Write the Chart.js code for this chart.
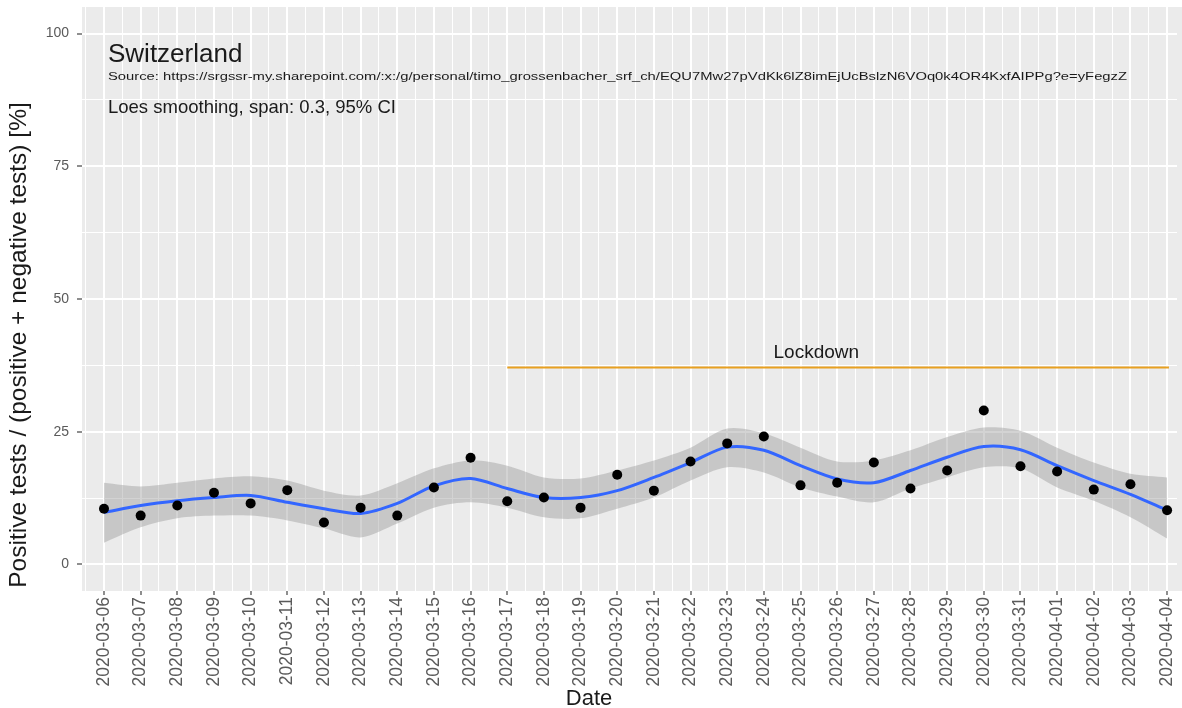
<!DOCTYPE html>
<html>
<head>
<meta charset="utf-8">
<script src="https://cdn.jsdelivr.net/npm/chart.js@4"></script>
<style>
  html, body { margin: 0; padding: 0; background: #ffffff; }
  #wrap { width: 1182px; height: 708px; }
</style>
</head>
<body>
<div id="wrap"><canvas id="c" width="1182" height="708"></canvas></div>
<script>
// ---- data ----
const dates = ["2020-03-06","2020-03-07","2020-03-08","2020-03-09","2020-03-10","2020-03-11","2020-03-12","2020-03-13","2020-03-14","2020-03-15","2020-03-16","2020-03-17","2020-03-18","2020-03-19","2020-03-20","2020-03-21","2020-03-22","2020-03-23","2020-03-24","2020-03-25","2020-03-26","2020-03-27","2020-03-28","2020-03-29","2020-03-30","2020-03-31","2020-04-01","2020-04-02","2020-04-03","2020-04-04"];
const positiveShare = [10.5, 9.2, 11.1, 13.5, 11.5, 14.0, 7.9, 10.7, 9.2, 14.5, 20.1, 11.9, 12.6, 10.7, 16.9, 13.9, 19.4, 22.8, 24.1, 14.9, 15.4, 19.2, 14.3, 17.7, 29.0, 18.5, 17.5, 14.1, 15.1, 10.2];
const loessFit = [9.8, 11.1, 12.0, 12.6, 13.0, 11.7, 10.5, 9.6, 11.5, 14.8, 16.2, 14.3, 12.6, 12.6, 13.9, 16.4, 19.2, 22.1, 21.5, 18.6, 16.1, 15.4, 17.7, 20.2, 22.2, 21.6, 18.6, 15.8, 13.2, 10.2];
const ciUpper = [15.4, 14.7, 15.4, 16.2, 16.6, 15.8, 13.9, 13.0, 15.3, 18.1, 19.6, 18.6, 16.4, 16.2, 17.7, 19.6, 22.0, 25.6, 24.7, 22.0, 19.4, 19.6, 21.5, 24.0, 25.8, 25.2, 22.0, 19.2, 17.1, 16.4];
const ciLower = [4.1, 7.0, 8.7, 9.2, 9.2, 8.3, 6.8, 5.1, 7.7, 10.7, 11.7, 10.7, 8.9, 8.7, 10.5, 12.6, 15.8, 18.3, 17.3, 14.5, 12.8, 11.7, 14.3, 16.4, 18.3, 18.1, 14.5, 12.0, 8.9, 4.9];
const yTicks = [0, 25, 50, 75, 100];
const lockdownStart = "2020-03-17";
const lockdownEnd = "2020-04-04";
const lockdownLevel = 37.1;
const lockdownLabel = "Lockdown";
const countryTitle = "Switzerland";
const sourceText = "Source: https://srgssr-my.sharepoint.com/:x:/g/personal/timo_grossenbacher_srf_ch/EQU7Mw27pVdKk6lZ8imEjUcBslzN6VOq0k4OR4KxfAIPPg?e=yFegzZ";
const smoothText = "Loes smoothing, span: 0.3, 95% CI";
const xTitle = "Date";
const yTitle = "Positive tests / (positive + negative tests) [%]";

// ---- build ----
const idx = d => dates.indexOf(d);
const pts = arr => arr.map((v, i) => ({x: i, y: v}));
const FONT = "'Liberation Sans', Arial, sans-serif";

const bgPlugin = {
  id: 'bg',
  beforeDraw(chart) {
    const {ctx, chartArea: a} = chart;
    ctx.save();
    ctx.fillStyle = '#ffffff';
    ctx.fillRect(0, 0, chart.width, chart.height);
    ctx.fillStyle = '#EBEBEB';
    ctx.fillRect(a.left, a.top, chart.width - a.left, a.bottom - a.top);
    ctx.restore();
  }
};

const textPlugin = {
  id: 'texts',
  afterDraw(chart) {
    const {ctx} = chart;
    const xs = chart.scales.x, ys = chart.scales.y;
    ctx.save();
    ctx.fillStyle = '#1a1a1a';
    ctx.textBaseline = 'alphabetic';
    ctx.textAlign = 'left';
    const left = xs.getPixelForValue(0) + 4;
    ctx.font = '26px ' + FONT;
    ctx.fillText(countryTitle, left, 62);
    // source line: small text stretched to the reference width
    ctx.font = '11.5px ' + FONT;
    const w = ctx.measureText(sourceText).width;
    ctx.save();
    ctx.translate(left, 80);
    ctx.scale(1019 / w, 1);
    ctx.fillText(sourceText, 0, 0);
    ctx.restore();
    ctx.font = '18.5px ' + FONT;
    ctx.fillText(smoothText, left, 113);
    // lockdown label
    ctx.textAlign = 'center';
    ctx.font = '19px ' + FONT;
    ctx.fillText(lockdownLabel, xs.getPixelForValue(19.43), ys.getPixelForValue(lockdownLevel) - 9);
    // axis titles
    ctx.font = '22px ' + FONT;
    ctx.fillText(xTitle, 589, 705);
    ctx.translate(26, 345);
    ctx.rotate(-Math.PI / 2);
    ctx.font = '24.5px ' + FONT;
    ctx.fillText(yTitle, 0, 0);
    ctx.restore();
  }
};

const xTickVals = [];
for (let v = -0.5; v <= 29.0001; v += 0.5) xTickVals.push(v);
const yTickVals = [];
for (let v = 0; v <= 100.0001; v += 12.5) yTickVals.push(v);

new Chart(document.getElementById('c'), {
  type: 'line',
  data: {
    datasets: [
      { label: 'upper', data: pts(ciUpper), borderWidth: 0, pointRadius: 0, fill: '+1',
        backgroundColor: 'rgba(150,150,150,0.42)', borderColor: 'rgba(0,0,0,0)', tension: 0.3, order: 5 },
      { label: 'lower', data: pts(ciLower), borderWidth: 0, pointRadius: 0, fill: false,
        borderColor: 'rgba(0,0,0,0)', tension: 0.3, order: 5 },
      { label: 'loess', data: pts(loessFit), borderColor: '#3366FF', borderWidth: 3, pointRadius: 0,
        fill: false, tension: 0.3, order: 3 },
      { label: 'lockdown', data: [{x: idx(lockdownStart), y: lockdownLevel}, {x: idx(lockdownEnd) + 0.05, y: lockdownLevel}],
        borderColor: '#E8A020', borderWidth: 2.2, pointRadius: 0, fill: false, order: 2 },
      { type: 'scatter', label: 'share', data: pts(positiveShare), backgroundColor: '#000000',
        borderColor: '#000000', pointRadius: 5, borderWidth: 0, order: 1 }
    ]
  },
  options: {
    responsive: false,
    animation: false,
    events: [],
    layout: { padding: { top: 7, right: 0, bottom: 0, left: 0 } },
    plugins: { legend: { display: false }, tooltip: { enabled: false }, title: { display: false } },
    scales: {
      x: {
        type: 'linear', min: -0.6, max: 29.27,
        afterBuildTicks: s => { s.ticks = xTickVals.map(v => ({value: v})); },
        afterFit: s => { s.height = 117; s.paddingLeft = 0; s.paddingRight = 0; },
        border: { display: false },
        grid: {
          color: '#ffffff',
          lineWidth: c => (c.tick && Number.isInteger(c.tick.value)) ? 2 : 1,
          tickColor: c => (c.tick && Number.isInteger(c.tick.value)) ? '#444444' : 'rgba(0,0,0,0)',
          tickLength: 4, tickWidth: 1.2
        },
        ticks: {
          autoSkip: false, maxRotation: 90, minRotation: 90, padding: 2,
          color: '#5a5a5a', font: { size: 17.5, family: FONT },
          callback: v => Number.isInteger(v) ? dates[v] : ''
        }
      },
      y: {
        type: 'linear', min: -5, max: 105,
        afterBuildTicks: s => { s.ticks = yTickVals.map(v => ({value: v})); },
        afterFit: s => { s.width = 82; s.paddingTop = 0; s.paddingBottom = 0; },
        border: { display: false },
        grid: {
          color: '#ffffff',
          lineWidth: c => (c.tick && yTicks.includes(c.tick.value)) ? 2 : 1,
          tickColor: c => (c.tick && yTicks.includes(c.tick.value)) ? '#444444' : 'rgba(0,0,0,0)',
          tickLength: 5, tickWidth: 1.2
        },
        ticks: {
          padding: 8, color: '#5a5a5a', font: { size: 14, family: FONT },
          callback: v => yTicks.includes(v) ? String(v) : ''
        }
      }
    }
  },
  plugins: [bgPlugin, textPlugin]
});
</script>
</body>
</html>
